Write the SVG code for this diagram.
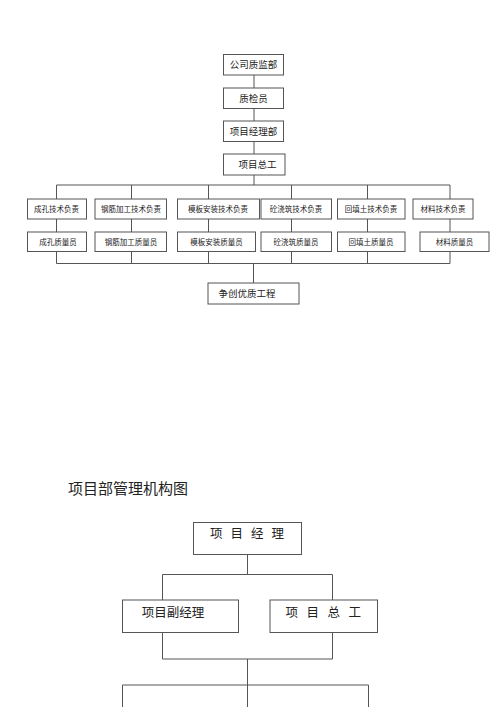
<svg xmlns="http://www.w3.org/2000/svg" width="500" height="707" viewBox="0 0 500 707">
<style>
rect{fill:#fff;stroke:#555;stroke-width:1}
#connectors path{fill:none;stroke:#555;stroke-width:1}
text{font-family:"Noto Sans CJK SC","Liberation Sans",sans-serif;fill:#222;text-anchor:middle}
.t1{font-size:9.5px}
.t2{font-size:7.5px}
.t3{font-size:12.5px}
.title{font-size:15px;text-anchor:start}
</style>
<rect x="0" y="0" width="500" height="707" style="stroke:none"/>
<g id="connectors">
<path d="M254 75V88M254 108.5V121M254 141.5V154M254 175V185M56.5 185H450M56.5 185V199M131.5 185V199M208.5 185V199M291.5 185V199M367.5 185V199M450 185V199"/>
<path d="M56.5 219V232M131.5 219V232M208.5 219V232M291.5 219V232M367.5 219V232M450 219V232"/>
<path d="M56.5 251.5V263.5M131.5 251.5V263.5M208.5 251.5V263.5M291.5 251.5V263.5M367.5 251.5V263.5M450 251.5V263.5M56.5 263.5H450M253.5 263.5V283"/>
<path d="M247.5 554.5V574.5M162.5 574.5H332.5M162.5 574.5V600M332.5 574.5V600M162.5 632.5V659M332.5 632.5V659M162.5 659H332.5M247.5 659V685M122.5 685H368.5M122.5 685V707M247.5 685V707M368.5 685V707"/>
</g>
<g id="n1"><rect x="223.5" y="54.5" width="60" height="20.5"/><text class="t1" x="253.5" y="68">公司质监部</text></g>
<g id="n2"><rect x="223.5" y="88" width="60" height="20.5"/><text class="t1" x="253.5" y="101.5">质检员</text></g>
<g id="n3"><rect x="223.5" y="121" width="60" height="20.5"/><text class="t1" x="253.5" y="134.5">项目经理部</text></g>
<g id="n4"><rect x="223.5" y="154" width="61.5" height="21"/><text class="t1" x="257.5" y="167.8">项目总工</text></g>
<g id="a1"><rect x="27.5" y="199" width="59" height="20"/><text class="t2" x="56.5" y="211.7">成孔技术负责</text></g>
<g id="a2"><rect x="95" y="199" width="71.5" height="20"/><text class="t2" x="131" y="211.7">钢筋加工技术负责</text></g>
<g id="a3"><rect x="177.5" y="199" width="82" height="20"/><text class="t2" x="218" y="211.7">模板安装技术负责</text></g>
<g id="a4"><rect x="261" y="199" width="70.5" height="20"/><text class="t2" x="296" y="211.7">砼浇筑技术负责</text></g>
<g id="a5"><rect x="337.5" y="199" width="67.5" height="20"/><text class="t2" x="371" y="211.7">回填土技术负责</text></g>
<g id="a6"><rect x="413" y="199" width="60" height="20"/><text class="t2" x="443" y="211.7">材料技术负责</text></g>
<g id="b1"><rect x="27.5" y="232" width="59" height="19.5"/><text class="t2" x="58" y="244.5">成孔质量员</text></g>
<g id="b2"><rect x="95" y="232" width="71.5" height="19.5"/><text class="t2" x="131" y="244.5">钢筋加工质量员</text></g>
<g id="b3"><rect x="177.5" y="232" width="78" height="19.5"/><text class="t2" x="216.5" y="244.5">模板安装质量员</text></g>
<g id="b4"><rect x="261" y="232" width="70.5" height="19.5"/><text class="t2" x="296" y="244.5">砼浇筑质量员</text></g>
<g id="b5"><rect x="337.5" y="232" width="67.5" height="19.5"/><text class="t2" x="371" y="244.5">回填土质量员</text></g>
<g id="b6"><rect x="420" y="232" width="69" height="19.5"/><text class="t2" x="454.5" y="244.5">材料质量员</text></g>
<g id="c1"><rect x="208" y="283" width="91" height="21"/><text class="t1" x="247" y="297">争创优质工程</text></g>
<text class="title" x="68" y="494">项目部管理机构图</text>
<g id="d1"><rect x="193.5" y="522.5" width="108" height="32"/><text class="t3" x="251" y="538" style="letter-spacing:8px">项目经理</text></g>
<g id="d2"><rect x="122.5" y="600" width="116" height="32.5"/><text class="t3" x="173" y="617">项目副经理</text></g>
<g id="d3"><rect x="270" y="600" width="107.5" height="32.5"/><text class="t3" x="327.5" y="617" style="letter-spacing:8.5px">项目总工</text></g>
</svg>
